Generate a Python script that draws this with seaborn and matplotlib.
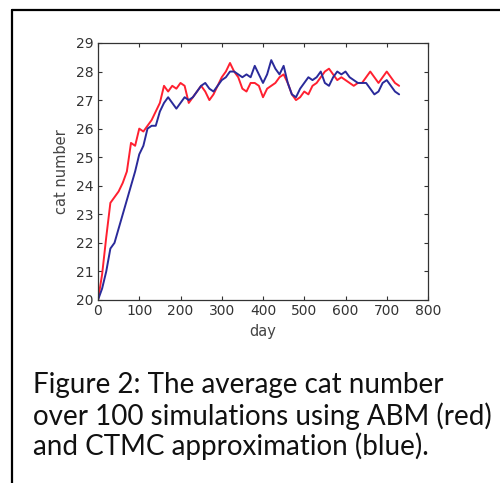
import numpy as np
import pandas as pd
import matplotlib
matplotlib.use('Agg')
import matplotlib.pyplot as plt
from matplotlib.lines import Line2D
import seaborn as sns

# ============================================================
# Data (10-day steps)
# ============================================================
days = list(range(0, 731, 10))

abm_red = [20.0, 20.9, 22.2, 23.4, 23.6, 23.8, 24.1, 24.5, 25.5, 25.4,
           26.0, 25.9, 26.1, 26.3, 26.6, 26.9, 27.5, 27.3, 27.5, 27.4,
           27.6, 27.5, 26.9, 27.1, 27.3, 27.5, 27.3, 27.0, 27.2, 27.5,
           27.8, 28.0, 28.3, 28.0, 27.8, 27.4, 27.3, 27.6, 27.6, 27.5,
           27.1, 27.4, 27.5, 27.6, 27.8, 27.9, 27.6, 27.2, 27.0, 27.1,
           27.3, 27.2, 27.5, 27.6, 27.8, 28.0, 28.1, 27.9, 27.7, 27.8,
           27.7, 27.6, 27.5, 27.6, 27.6, 27.8, 28.0, 27.8, 27.6, 27.8,
           28.0, 27.8, 27.6, 27.5]

ctmc_blue = [20.0, 20.4, 21.0, 21.8, 22.0, 22.5, 23.0, 23.5, 24.0, 24.5,
             25.1, 25.4, 26.0, 26.1, 26.1, 26.6, 26.9, 27.1, 26.9, 26.7,
             26.9, 27.1, 27.0, 27.1, 27.3, 27.5, 27.6, 27.4, 27.3, 27.5,
             27.7, 27.8, 28.0, 28.0, 27.9, 27.8, 27.9, 27.8, 28.2, 27.9,
             27.6, 27.9, 28.4, 28.1, 27.9, 28.2, 27.6, 27.2, 27.1, 27.4,
             27.6, 27.8, 27.7, 27.8, 28.0, 27.6, 27.5, 27.8, 28.0, 27.9,
             28.0, 27.8, 27.7, 27.6, 27.6, 27.6, 27.4, 27.2, 27.3, 27.6,
             27.7, 27.5, 27.3, 27.2]

x_ticks = list(range(0, 801, 100))
y_ticks = list(range(20, 30))

caption_lines = ["Figure 2: The average cat number",
                 "over 100 simulations using ABM (red)",
                 "and CTMC approximation (blue)."]

df = pd.DataFrame({
    'day': days + days,
    'cats': abm_red + ctmc_blue,
    'model': ['ABM'] * len(days) + ['CTMC'] * len(days),
})

sns.set_style('ticks')
plt.rcParams['font.family'] = ['DejaVu Sans']

fig = plt.figure(figsize=(5.0, 4.83), dpi=100)
ax = fig.add_axes([0.196, 0.379, 0.66, 0.532])

sns.lineplot(data=df, x='day', y='cats', hue='model',
             palette={'ABM': '#ff2030', 'CTMC': '#2a2a9a'},
             linewidth=1.4, legend=False, ax=ax)

ax.set_xlim(0, 800)
ax.set_ylim(20, 29)
ax.set_xticks(x_ticks)
ax.set_yticks(y_ticks)
ax.tick_params(direction='in', top=True, right=True, length=3,
               labelsize=10, colors='#333333', pad=3)
for s in ax.spines.values():
    s.set_color('#333333')
    s.set_linewidth(0.9)
ax.set_xlabel('day', fontsize=10.5, color='#444444', labelpad=4)
ax.set_ylabel('cat number', fontsize=10.5, color='#444444', labelpad=5)

# frame lines of the figure box (top and left)
fig.add_artist(Line2D([0.024, 1.0], [0.979, 0.979], color='black', lw=1.6))
fig.add_artist(Line2D([0.024, 0.024], [0.0, 0.979], color='black', lw=1.6))

# caption, one line per baseline
for line, y in zip(caption_lines, [0.186, 0.121, 0.058]):
    fig.text(0.066, y, line, fontsize=20, family=['Lato', 'DejaVu Sans'],
             va='baseline', ha='left', color='#111111')

fig.savefig('out.png', dpi=100)
